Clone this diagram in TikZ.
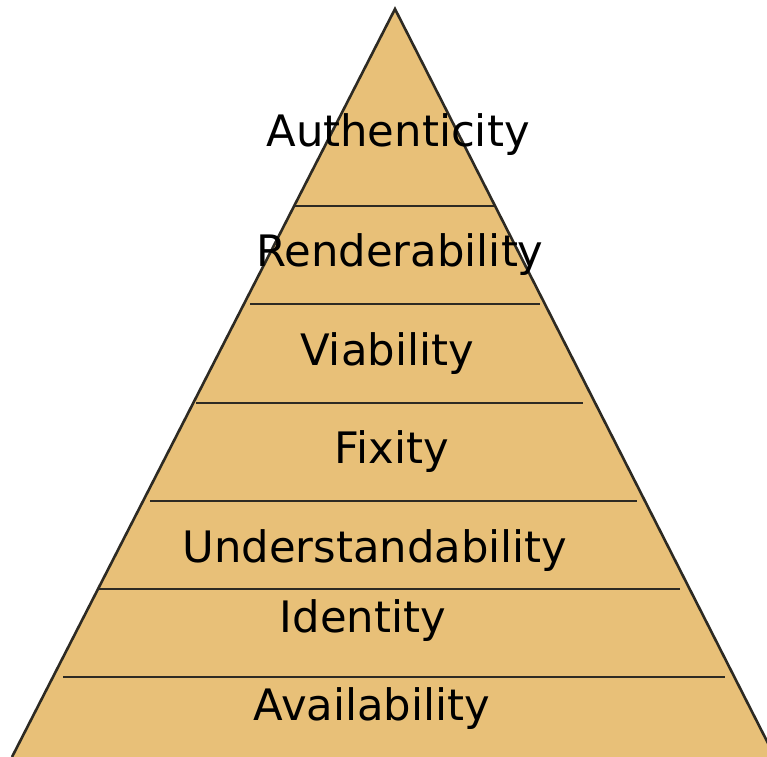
\documentclass[tikz,border=0pt]{standalone}
\usepackage{fontspec}
\setmainfont{DejaVu Sans}
\definecolor{pyrfill}{RGB}{232,192,120}
\definecolor{pyredge}{RGB}{45,42,35}
\tikzset{
  level/.style={anchor=base, inner sep=0pt, text=black,
    font=\fontsize{43.5}{50}\selectfont},
  divider/.style={draw=pyredge, line width=1.5bp},
}
\begin{document}
\begin{tikzpicture}[x=1bp, y=-1bp]
  \useasboundingbox (0,0) rectangle (767,757);
  \begin{scope}
    \clip (0,0) rectangle (767,757);
    % pyramid body
    \fill[pyrfill] (395,9) -- (12,757) -- (775,757) -- cycle;
    \draw[pyredge, line width=2.6bp, line join=miter] (12,757) -- (395,9) -- (775,757);
  \end{scope}
  % dividers between the tiers
  \draw[divider] (295,206) -- (495,206);
  \draw[divider] (250,304) -- (540,304);
  \draw[divider] (196,403) -- (583,403);
  \draw[divider] (150,501) -- (637,501);
  \draw[divider] (98,589) -- (680,589);
  \draw[divider] (63,677) -- (725,677);
  % tier labels
  \node[level] (auth)  at (398,146) {Authenticity};
  \node[level] (rend)  at (400,266) {Renderability};
  \node[level] (viab)  at (387,365) {Viability};
  \node[level] (fix)   at (392,463) {Fixity};
  \node[level] (under) at (375,562) {Understandability};
  \node[level] (ident) at (363,632) {Identity};
  \node[level] (avail) at (372,720) {Availability};
\end{tikzpicture}
\end{document}
